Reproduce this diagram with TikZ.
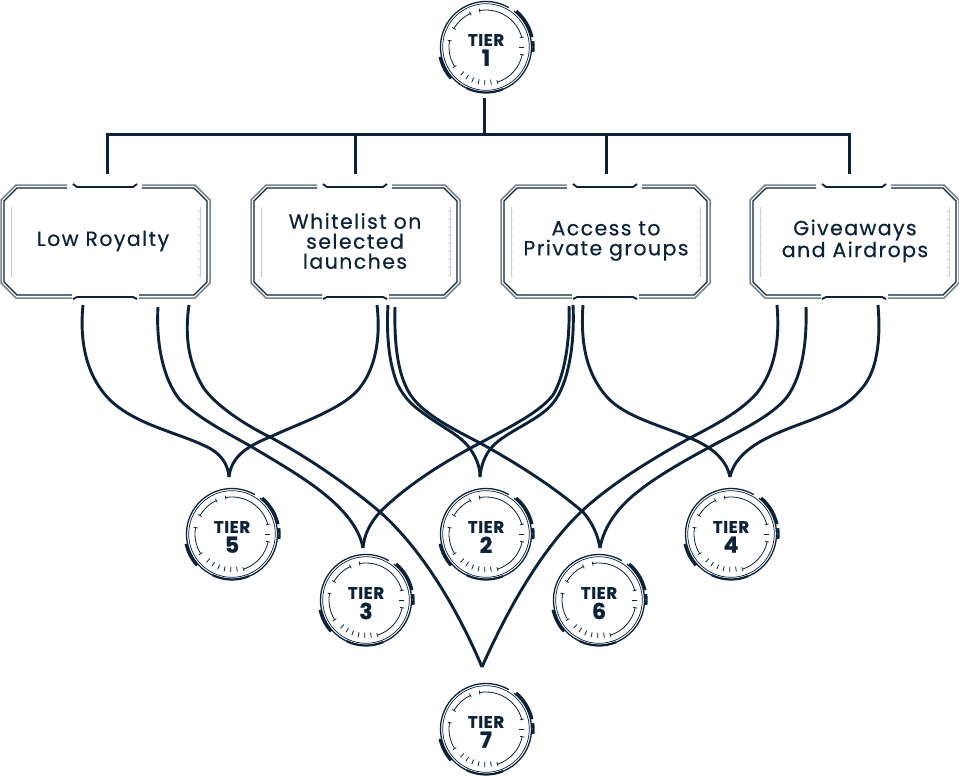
\documentclass[tikz,border=0pt]{standalone}
\usepackage{fontspec}
\setmainfont{Poppins}
\newfontfamily\labelfont[LetterSpace=7,FakeBold=0.4]{Poppins}
\newfontfamily\tierfont[BoldFeatures={FakeBold=0.8,LetterSpace=4}]{Poppins}
\usetikzlibrary{positioning}
\definecolor{navy}{HTML}{0B2239}
\definecolor{frame}{HTML}{76848F}
\definecolor{scalegrey}{HTML}{C9CFD4}
\tikzset{
  wire/.style={navy,line width=3pt},
  curve/.style={navy,line width=2.9pt},
  frameout/.style={frame,line width=1.5pt},
  framein/.style={navy,line width=1.1pt},
  framecap/.style={navy,line width=1.8pt},
  scaleline/.style={scalegrey,line width=0.8pt},
  boxlabel/.style={navy,align=center,inner sep=0pt,font=\labelfont\fontsize{20.5}{20}\selectfont},
  tierlabel/.style={navy,align=center,inner sep=0pt,circle,minimum size=92pt}
}
% x y name number
\newcommand{\tierbadge}[4]{
  \node[tierlabel] (#3) at (#1,#2) {};
  \node[navy,inner sep=0pt,font=\tierfont\bfseries\fontsize{16.5}{16}\selectfont] (#3text) at (#1,#2-7) {TIER};
  \node[navy,inner sep=0pt,font=\tierfont\bfseries\fontsize{22}{22}\selectfont,below=3.5pt of #3text] (#3num) {#4};
  \begin{scope}[shift={(#1,#2)}]
    \foreach \from/\to/\rad/\wd in {-88/52/45.5/1.3,60/268/45.5/1.3,-85/275/43.3/0.7,
        12/50/47/3,-6/7/47.5/2.4,192/222/47/3,245/292/45.5/2.2,
        -72/-12/37/0.8,15/100/37/0.8,115/150/37/0.8,170/212/37/0.8}
      \draw[navy,line width=\wd pt] (\from:\rad pt) arc[start angle=\from,end angle=\to,radius=\rad pt];
    \foreach \ang in {-72,-12,15,100,115,150,170,212}
      \draw[navy,line width=0.8pt] (\ang:35pt) -- (\ang:39pt);
    \foreach \ang in {0,228,238,248,258,268,278}
      \draw[navy,line width=0.8pt] (\ang:33pt) -- (\ang:38pt);
  \end{scope}
}
% left edge, name, text, text x
\newcommand{\rewardbox}[4]{
  \node[boxlabel] (#2) at (#4,241) {#3};
  \begin{scope}[shift={(#1,185)}]
    \draw[frameout] (65,0) -- (14,0) -- (-1,15) -- (-1,98) -- (14,113) -- (70,113);
    \draw[frameout] (140,0) -- (193,0) -- (208,15) -- (208,98) -- (193,113) -- (137,113);
    \draw[framein] (65,3) -- (15,3) -- (2,16) -- (2,97) -- (15,110) -- (70,110);
    \draw[framein] (140,3) -- (192,3) -- (205,16) -- (205,97) -- (192,110) -- (137,110);
    \draw[framecap] (71,-1) -- (75,2) -- (131,2) -- (135,-1);
    \draw[framecap] (71,114) -- (75,112) -- (131,112) -- (135,114);
    \draw[scaleline] (9,22) -- (9,92);
    \draw[scaleline] (198,22) -- (198,92);
    \foreach \tick in {26,34,...,90} {
      \draw[scaleline] (9,\tick) -- (11,\tick);
      \draw[scaleline] (198,\tick) -- (196,\tick);
    }
  \end{scope}
}
\begin{document}
\begin{tikzpicture}[x=1pt,y=-1pt]
  \useasboundingbox (0,0) rectangle (959,777);
  \tierbadge{486}{47}{tierone}{1}
  \tierbadge{232}{534}{tierfive}{5}
  \tierbadge{366}{600}{tierthree}{3}
  \tierbadge{486}{534}{tiertwo}{2}
  \tierbadge{599}{600}{tiersix}{6}
  \tierbadge{731}{534}{tierfour}{4}
  \tierbadge{486}{729}{tierseven}{7}

  \rewardbox{2}{royalty}{Low Royalty}{103}
  \rewardbox{252}{whitelist}{Whitelist on\\selected\\launches}{355}
  \rewardbox{502}{access}{Access to\\Private groups}{606}
  \rewardbox{751}{giveaways}{Giveaways\\and Airdrops}{855}

  % tree under tier 1
  \coordinate (trunk) at (484,98);
  \coordinate (fork) at (484,134);
  \coordinate (dropa) at (107,174);
  \coordinate (dropb) at (355,174);
  \coordinate (dropc) at (606,174);
  \coordinate (dropd) at (849,174);
  \draw[wire] (trunk) -- (fork);
  \draw[wire] (dropa) |- (fork) -| (dropd);
  \draw[wire] (dropb) -- (dropb |- fork);
  \draw[wire] (dropc) -- (dropc |- fork);

  % tips over the badges
  \coordinate (tipfive) at (229,477);
  \coordinate (tiptwo) at (480,477);
  \coordinate (tipfour) at (730,477);
  \coordinate (tipthree) at (363,548);
  \coordinate (tipsix) at (600,548);
  \coordinate (tipseven) at (482,667);

  % feet under the boxes
  \coordinate (roya) at (83,305);
  \coordinate (royb) at (158,307);
  \coordinate (royc) at (189,305);
  \coordinate (whia) at (377,305);
  \coordinate (whib) at (388,305);
  \coordinate (whic) at (395,307);
  \coordinate (acca) at (569,306);
  \coordinate (accb) at (573,305);
  \coordinate (accc) at (583,305);
  \coordinate (giva) at (777,305);
  \coordinate (givb) at (806,307);
  \coordinate (givc) at (878,305);

  \draw[curve] (roya) .. controls (79,345) and (88,378) .. (110,400) .. controls (135,424) and (175,432) .. (203,445) .. controls (222,453) and (228,465) .. (tipfive);
  \draw[curve] (whia) .. controls (381,340) and (375,370) .. (358,390) .. controls (340,410) and (300,423) .. (270,437) .. controls (245,447) and (231,458) .. (tipfive);
  \draw[curve] (royb) .. controls (156,340) and (162,378) .. (180,400) .. controls (200,420) and (235,437) .. (252,447) .. controls (295,473) and (355,505) .. (tipthree);
  \draw[curve] (royc) .. controls (184,340) and (190,365) .. (203,387) .. controls (215,405) and (245,425) .. (270,437) .. controls (320,464) and (360,495) .. (380,512) .. controls (425,552) and (460,615) .. (tipseven);
  \draw[curve] (acca) .. controls (570,340) and (565,375) .. (553,395) .. controls (540,412) and (510,427) .. (480,443) .. controls (440,464) and (405,487) .. (380,512) .. controls (370,523) and (364,535) .. (tipthree);
  \draw[curve] (accb) .. controls (575,345) and (568,385) .. (553,403) .. controls (540,420) and (505,432) .. (492,447) .. controls (485,455) and (481,465) .. (tiptwo);
  \draw[curve] (whib) .. controls (386,340) and (390,365) .. (397,383) .. controls (405,400) and (415,407) .. (423,413) .. controls (440,426) and (458,434) .. (468,446) .. controls (475,455) and (480,465) .. (tiptwo);
  \draw[curve] (whic) .. controls (394,345) and (398,378) .. (412,397) .. controls (425,415) and (455,430) .. (480,443) .. controls (520,465) and (555,488) .. (583,512) .. controls (592,522) and (598,535) .. (tipsix);
  \draw[curve] (accc) .. controls (581,335) and (583,370) .. (607,397) .. controls (625,417) and (660,425) .. (690,438) .. controls (715,448) and (727,462) .. (tipfour);
  \draw[curve] (givc) .. controls (881,340) and (877,370) .. (863,387) .. controls (850,403) and (840,408) .. (823,415) .. controls (795,428) and (738,440) .. (tipfour);
  \draw[curve] (giva) .. controls (780,340) and (775,370) .. (757,393) .. controls (740,412) and (715,425) .. (690,438) .. controls (650,460) and (610,485) .. (583,510) .. controls (540,550) and (505,615) .. (tipseven);
  \draw[curve] (givb) .. controls (807,340) and (803,375) .. (787,397) .. controls (770,418) and (735,433) .. (708,448) .. controls (680,463) and (655,478) .. (640,490) .. controls (620,505) and (604,525) .. (tipsix);
\end{tikzpicture}
\end{document}
